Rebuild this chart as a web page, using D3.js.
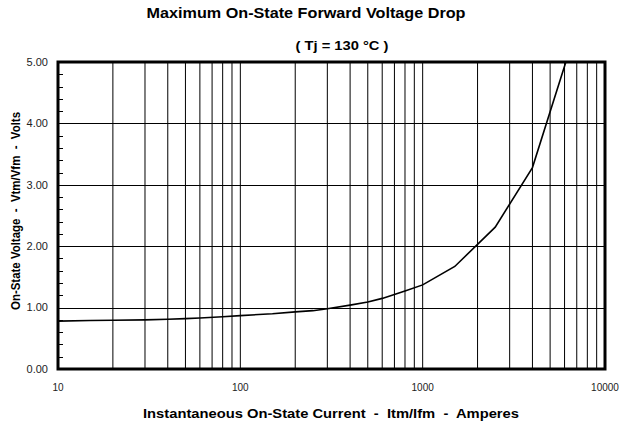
<!DOCTYPE html>
<html>
<head>
<meta charset="utf-8">
<script src="https://cdn.jsdelivr.net/npm/d3@7"></script>
<style>
  body { margin: 0; background: #fff; }
  text { font-family: "Liberation Sans", Arial, sans-serif; white-space: pre; }
</style>
</head>
<body>
<div id="chart"></div>
<script>
// forward voltage curve
var current = [10, 15, 20, 30, 40, 50, 60, 80, 100, 150, 200, 250, 300, 400, 500, 600, 800, 1000, 1500, 2500, 4000, 6100];
var voltage = [0.78, 0.79, 0.795, 0.80, 0.81, 0.82, 0.83, 0.85, 0.87, 0.90, 0.93, 0.95, 0.98, 1.04, 1.09, 1.15, 1.27, 1.37, 1.67, 2.31, 3.28, 5.0];
var yTicks = [0, 1, 2, 3, 4, 5];
var xTicks = [10, 100, 1000, 10000];

var width = 619,
	height = 423,
	margin = { top: 62, right: 14, bottom: 54, left: 58 },
	w = width - margin.left - margin.right,
	h = height - margin.top - margin.bottom;

var svg = d3.select('#chart').append('svg').attr('width', width).attr('height', height);
var g = svg.append('g').attr('transform', 'translate(' + margin.left + ',' + margin.top + ')');

var x = d3.scaleLog().domain([10, 10000]).range([0, w]);
var y = d3.scaleLinear().domain([0, 5]).range([h, 0]);

// vertical grid, every 1..9 per decade
var minor = [];
[10, 100, 1000].forEach(function (d) {
	for (var k = 2; k <= 9; k++) minor.push(d * k);
});
minor = minor.concat([100, 1000]);

g.selectAll('.vgrid')
	.data(minor)
	.enter().append('line')
	.attr('x1', function (d) { return x(d); })
	.attr('x2', function (d) { return x(d); })
	.attr('y1', 0)
	.attr('y2', h)
	.style('stroke', '#000')
	.style('stroke-width', 1);

g.selectAll('.hgrid')
	.data(yTicks.slice(1, -1))
	.enter().append('line')
	.attr('x1', 0)
	.attr('x2', w)
	.attr('y1', function (d) { return Math.round(y(d)) + 0.5; })
	.attr('y2', function (d) { return Math.round(y(d)) + 0.5; })
	.style('stroke', '#000')
	.style('stroke-width', 1);

// small inner ticks on the left axis
var yMinor = d3.range(0, 5.01, 0.2);
g.selectAll('.ytick')
	.data(yMinor)
	.enter().append('line')
	.attr('x1', 0)
	.attr('x2', 5)
	.attr('y1', function (d) { return Math.round(y(d)) + 0.5; })
	.attr('y2', function (d) { return Math.round(y(d)) + 0.5; })
	.style('stroke', '#000')
	.style('stroke-width', 1);

// curve
var pts = current.map(function (c, i) { return [c, voltage[i]]; });
var line = d3.line()
	.x(function (d) { return x(d[0]); })
	.y(function (d) { return y(d[1]); });

g.append('clipPath').attr('id', 'clip')
	.append('rect').attr('width', w).attr('height', h);

g.append('path')
	.datum(pts)
	.attr('d', line)
	.attr('clip-path', 'url(#clip)')
	.style('fill', 'none')
	.style('stroke', '#000')
	.style('stroke-width', 1.6);

// frame
g.append('rect')
	.attr('x', 0)
	.attr('y', 0)
	.attr('width', w)
	.attr('height', h)
	.style('fill', 'none')
	.style('stroke', '#000')
	.style('stroke-width', 3);

// tick labels
g.selectAll('.ylab')
	.data(yTicks)
	.enter().append('text')
	.attr('x', -10)
	.attr('y', function (d) { return y(d); })
	.attr('dy', '0.35em')
	.attr('text-anchor', 'end')
	.style('font-size', '11px')
	.style('fill', '#222')
	.text(function (d) { return d.toFixed(2); });

g.selectAll('.xlab')
	.data(xTicks)
	.enter().append('text')
	.attr('x', function (d) { return x(d); })
	.attr('y', h + 22)
	.attr('text-anchor', 'middle')
	.style('font-size', '10px')
	.style('fill', '#222')
	.text(function (d) { return d; });

// titles (source image is a bit stretched sideways)
svg.append('text')
	.attr('x', 306)
	.attr('y', 18)
	.attr('text-anchor', 'middle')
	.attr('textLength', 319)
	.attr('lengthAdjust', 'spacingAndGlyphs')
	.style('font-size', '14px')
	.style('font-weight', 'bold')
	.text('Maximum On-State Forward Voltage Drop');

svg.append('text')
	.attr('x', 342)
	.attr('y', 50)
	.attr('text-anchor', 'middle')
	.attr('textLength', 93)
	.attr('lengthAdjust', 'spacingAndGlyphs')
	.style('font-size', '12.5px')
	.style('font-weight', 'bold')
	.text('( Tj = 130 °C )');

svg.append('text')
	.attr('x', 331)
	.attr('y', 418)
	.attr('text-anchor', 'middle')
	.attr('textLength', 376)
	.attr('lengthAdjust', 'spacingAndGlyphs')
	.style('font-size', '12.5px')
	.style('font-weight', 'bold')
	.text('Instantaneous On-State Current  -  Itm/Ifm  -  Amperes');

svg.append('text')
	.attr('transform', 'translate(19.5,211) rotate(-90)')
	.attr('text-anchor', 'middle')
	.attr('textLength', 198)
	.attr('lengthAdjust', 'spacingAndGlyphs')
	.style('font-size', '13px')
	.style('font-weight', 'bold')
	.text('On-State Voltage  -  Vtm/Vfm  -  Volts');
</script>
</body>
</html>
